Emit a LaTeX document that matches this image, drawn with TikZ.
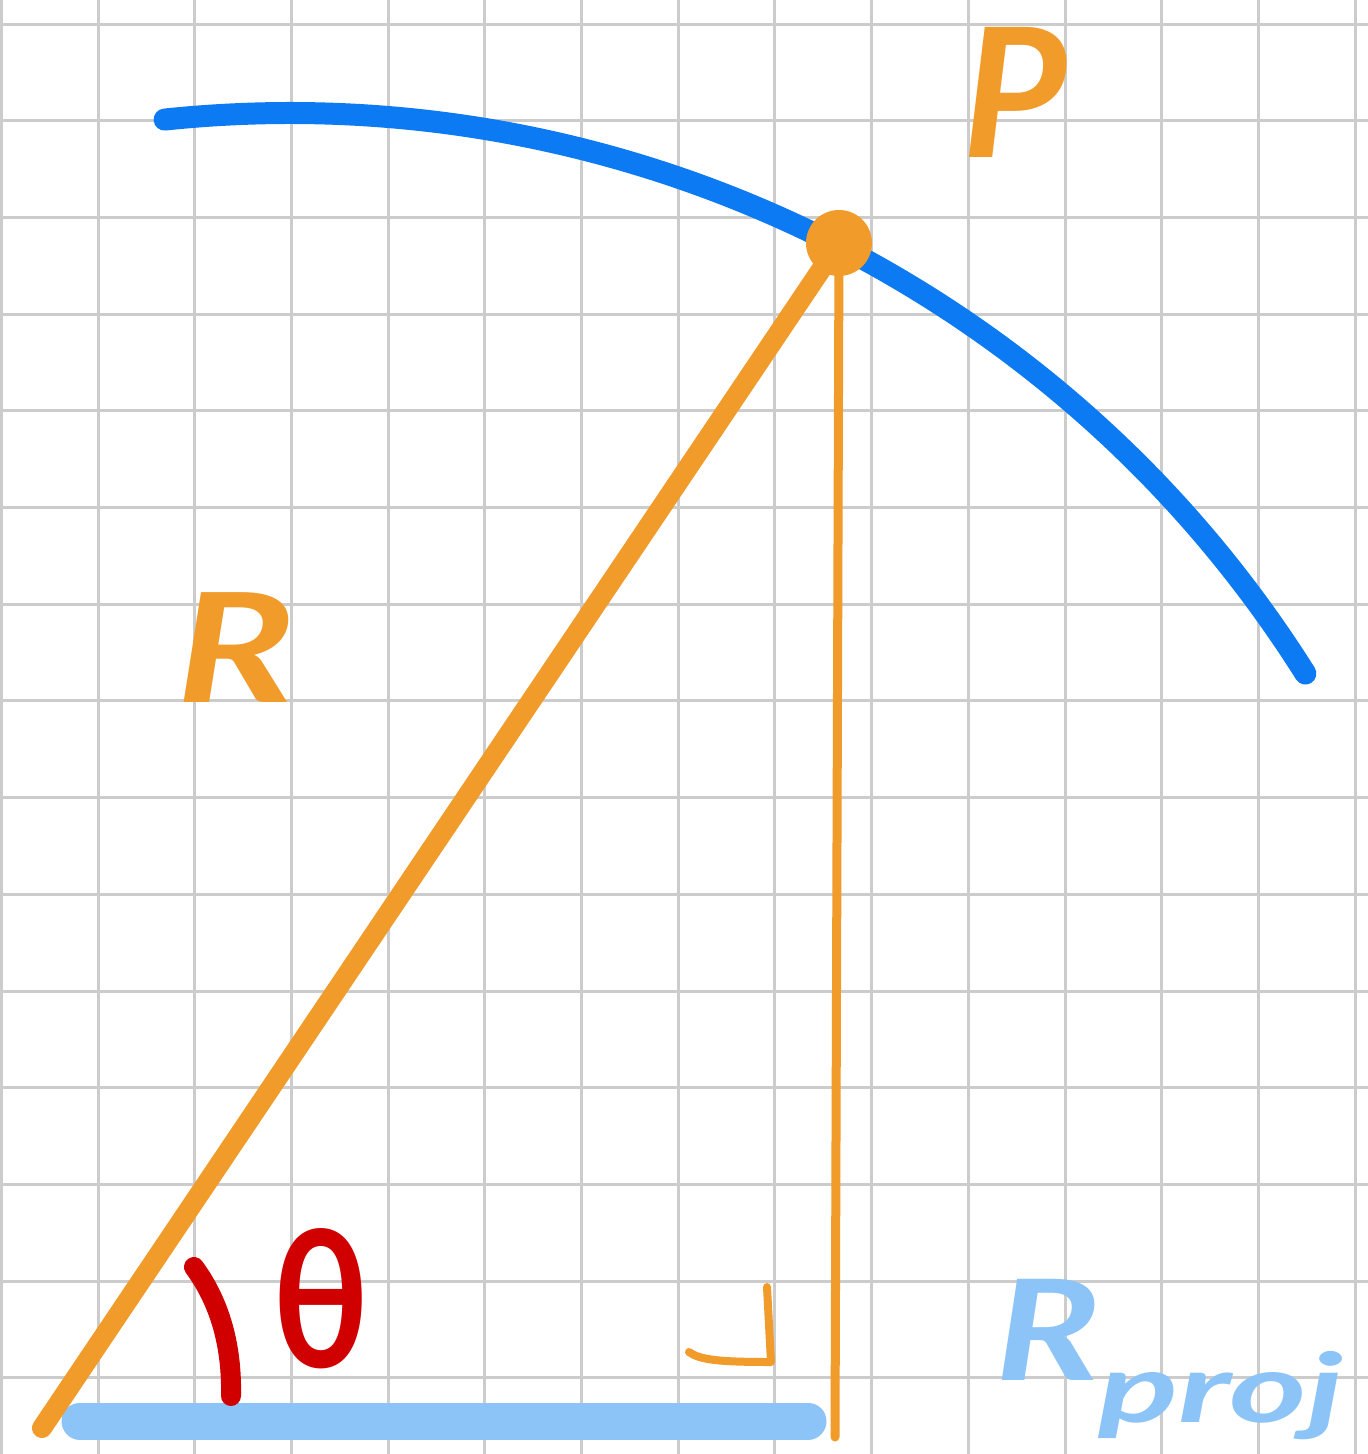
\documentclass[tikz,border=0pt]{standalone}
\usepackage{fontspec}
\setmainfont{Lato}
\definecolor{gridgray}{RGB}{204,204,204}
\definecolor{arcblue}{RGB}{12,122,242}
\definecolor{penorange}{RGB}{240,155,42}
\definecolor{projblue}{RGB}{140,196,248}
\definecolor{penred}{RGB}{208,0,0}
\begin{document}
\begin{tikzpicture}[x=1pt,y=-1pt,
  gridline/.style={gridgray,line width=3pt},
  label/.style={inner sep=0pt,font=\bfseries\itshape},
  thick pen/.style={line width=#1,line cap=round,line join=round}]
\fill[white] (0,0) rectangle (1368,1454);
\useasboundingbox (0,0) rectangle (1368,1454);
% grid
\foreach \i in {0,...,14} {
  \draw[gridline] ({1.3+96.7*\i},0) -- ({1.3+96.7*\i},1454);
}
\foreach \j in {0,...,14} {
  \draw[gridline] (0,{24+96.7*\j}) -- (1368,{24+96.7*\j});
}
% blue arc (circle centre (290,1313), radius 1200)
\coordinate (C) at (290,1313);
\draw[arcblue,thick pen=22pt] ([shift={(-96:1200)}]C) arc[start angle=-96,end angle=-32.2,radius=1200];
% named points
\coordinate (O) at (42,1428);
\coordinate (F) at (835,1437);
\coordinate (B1) at (80,1421);
\coordinate (B2) at (808,1421);
% projection base
\draw[projblue,thick pen=37pt] (B1) -- (B2);
% P dot
\node[circle,fill=penorange,minimum size=66pt,inner sep=0pt] (P) at (839,243) {};
% radius and perpendicular
\draw[penorange,thick pen=20pt] (O) -- (P.center);
\draw[penorange,thick pen=9pt] (P.center) -- (F);
% right angle mark
\draw[penorange,thick pen=8pt] (689,1352) .. controls (700,1360) and (720,1362) .. (771,1362) -- (767,1287);
% angle mark
\draw[penred,thick pen=20pt] (194,1267) .. controls (222,1305) and (232,1350) .. (231,1396);
% labels
\node[label,text=penorange,font=\bfseries\itshape\fontsize{180}{180}\selectfont] (Plab) at (1015,92) {P};
\node[label,text=penorange,xscale=1.3,font=\bfseries\itshape\fontsize{152}{152}\selectfont] (Rlab) at (236,648) {R};
\node[label,text=penred,xscale=0.85,font=\bfseries\fontsize{190}{190}\selectfont] (thlab) at (321,1299) {θ};
\node[label,text=projblue,xscale=1.25,font=\bfseries\itshape\fontsize{140}{140}\selectfont] (Rp) at (1048,1330) {R};
\node[label,text=projblue,xscale=1.55,anchor=west,font=\bfseries\itshape\fontsize{96}{96}\selectfont] (proj) at (1098,1396) {proj};
\end{tikzpicture}
\end{document}
